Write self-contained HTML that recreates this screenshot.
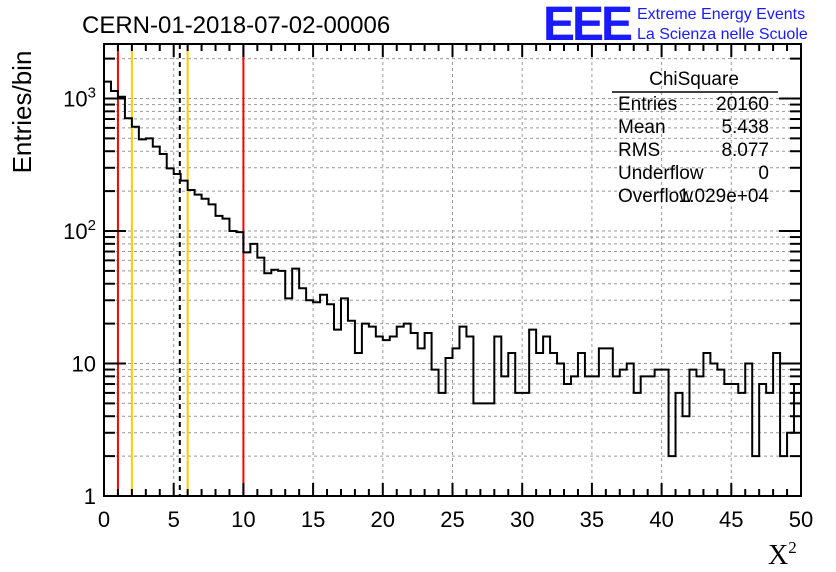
<!DOCTYPE html>
<html><head><meta charset="utf-8"><style>
body{margin:0;background:#fff;}
svg{display:block;font-family:"Liberation Sans",sans-serif;}
</style></head><body>
<svg id="chart" width="836" height="572">
</svg>
<script>
const binValues=[1340,1140,1030,710,612,492,500,433,381,297,269,240,204,188,175,159,130,124,100,98,69,80,63,48,51,50,31,52,37,30,29,33,28,18,31,21,12,20,19,16,15,16,19,20,17,13,17,9,6,11,13,19,16,5,5,5,16,8,12,6,6,18,12,16,12,10,7,8,12,8,8,13,13,8,9,10,6,8,8,9,9,2,6,4,9,8,12,10,9,7,7,6,10,2,7,6,12,2,3,7];
const xTicks=[0,5,10,15,20,25,30,35,40,45,50];
const yTickValues=[1,10,100,1000];
const yTickLabels=["1","10","10²","10³"];
const redLines=[1,10];
const yellowLines=[2,6];
const meanLine=[5.438];
const statLabels=["Entries","Mean","RMS","Underflow","Overflow"];
const statValues=["20160","5.438","8.077","0","1.029e+04"];

const L=104,R=801,T=44,B=496;
const X=v=>L+(v/50)*(R-L);
const Y=v=>B-132.5*Math.log10(v);
const svg=document.getElementById('chart');
const NS='http://www.w3.org/2000/svg';
function mk(tag,attrs,parent){const e=document.createElementNS(NS,tag);for(const k in attrs)e.setAttribute(k,attrs[k]);(parent||svg).appendChild(e);return e;}

const grid=mk('g',{});


xTicks.forEach(t=>{if(t>0&&t<50)mk('line',{x1:X(t),x2:X(t),y1:T,y2:B,stroke:'#999','stroke-dasharray':'3,3','stroke-width':1},grid);});
for(let d=0;d<4;d++)for(let m=1;m<10;m++){const v=m*Math.pow(10,d);const y=Y(v);if(y>T&&y<B)mk('line',{x1:L,x2:R,y1:y,y2:y,stroke:'#999','stroke-dasharray':'3,3','stroke-width':1},grid);}

redLines.forEach(v=>{const l=mk('line',{x1:X(v),x2:X(v),y1:T,y2:B,stroke:'#f00','stroke-width':2});

});
yellowLines.forEach(v=>{const l=mk('line',{x1:X(v),x2:X(v),y1:T,y2:B,stroke:'#fc0','stroke-width':2});

});
meanLine.forEach(v=>{const l=mk('line',{x1:X(v),x2:X(v),y1:T,y2:B,stroke:'#000','stroke-width':2,'stroke-dasharray':'5,4'});

});

let d='';const bw=0.5;
binValues.forEach((v,i)=>{const y=Math.max(T,Math.min(B,Y(Math.max(v,1))));const x0=X(i*bw),x1=X((i+1)*bw);d+=(i===0?'M'+x0+','+y:'L'+x0+','+y)+'L'+x1+','+y;});
const hist=mk('path',{d:d,fill:'none',stroke:'#000','stroke-width':2});



const frame=mk('rect',{x:L,y:T,width:R-L,height:B-T,fill:'none',stroke:'#000','stroke-width':2});



for(let t=0;t<=50;t++){const len=t%5===0?13:7;const x=X(t);
mk('line',{x1:x,x2:x,y1:B,y2:B-len,stroke:'#000','stroke-width':2});
mk('line',{x1:x,x2:x,y1:T,y2:T+len,stroke:'#000','stroke-width':2});}
xTicks.forEach(t=>{const tx=mk('text',{x:X(t),y:527,'font-size':22,'text-anchor':'middle'});tx.textContent=t;

});
for(let d2=0;d2<4;d2++)for(let m=1;m<10;m++){const v=m*Math.pow(10,d2);const y=Y(v);if(y<T)continue;const len=m===1?22:11;
mk('line',{x1:L,x2:L+len,y1:y,y2:y,stroke:'#000','stroke-width':2});
mk('line',{x1:R,x2:R-len,y1:y,y2:y,stroke:'#000','stroke-width':2});}
yTickValues.forEach((v,i)=>{const tx=mk('text',{x:96,y:Y(v)+8,'font-size':22,'text-anchor':'end'});
const lab=yTickLabels[i];
if(lab.length>2){tx.textContent='10';const s=mk('tspan',{dy:-9,'font-size':15},tx);s.textContent=lab.slice(2)==='²'?'2':'3';}
else tx.textContent=lab;

});

const ttl=mk('text',{x:82,y:33,'font-size':24});ttl.textContent='CERN-01-2018-07-02-00006';


const yt=mk('text',{x:31,y:112,'font-size':26,'text-anchor':'middle',transform:'rotate(-90 31 112)'});yt.textContent='Entries/bin';


const xt=mk('text',{x:768,y:564,'font-size':28,'font-family':'Liberation Serif,serif'});xt.textContent='X';
const xs=mk('tspan',{dy:-11,'font-size':17},xt);xs.textContent='2';



const logo=mk('text',{x:543,y:40,'font-size':48,'font-weight':'bold',fill:'#1a1aff','letter-spacing':'-4','textLength':86});logo.textContent='EEE';


const l1=mk('text',{x:637,y:19,'font-size':16,fill:'#1a1aff'});l1.textContent='Extreme Energy Events';


const l2=mk('text',{x:637,y:39,'font-size':16,fill:'#1a1aff'});l2.textContent='La Scienza nelle Scuole';



const sb=mk('g',{});


const st=mk('text',{x:694,y:85,'font-size':19,'text-anchor':'middle'},sb);st.textContent='ChiSquare';
mk('line',{x1:612,x2:778,y1:92,y2:92,stroke:'#000','stroke-width':1.5},sb);
statLabels.forEach((s,i)=>{const y=110+i*23;const a=mk('text',{x:618,y:y,'font-size':19},sb);a.textContent=s;
const b=mk('text',{x:769,y:y,'font-size':19,'text-anchor':'end'},sb);b.textContent=statValues[i];});
</script>
</body></html>
